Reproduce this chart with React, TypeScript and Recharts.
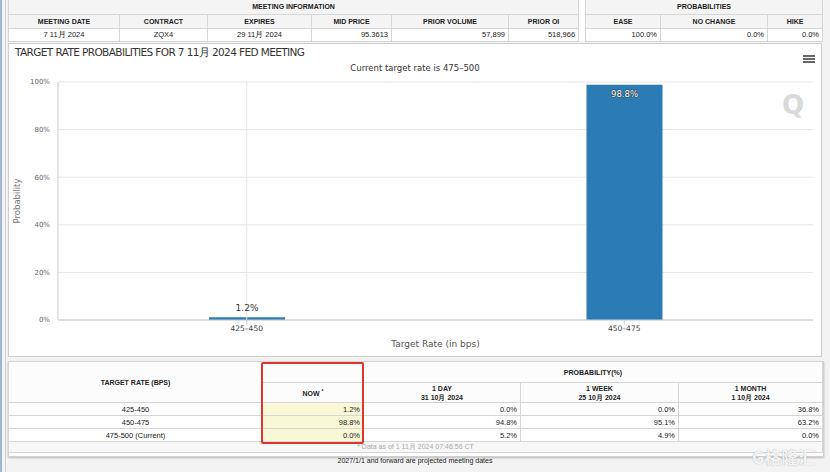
import React from 'react';
import {
  BarChart,
  Bar,
  XAxis,
  YAxis,
  CartesianGrid,
  ReferenceLine,
  LabelList,
  Label,
} from 'recharts';

// chart values
const rateBuckets = ['425–450', '450–475'];
const probabilities = [1.2, 98.8];
const yTicks = [0, 20, 40, 60, 80, 100];

// meeting info table
const meetingHeaders = ['MEETING DATE', 'CONTRACT', 'EXPIRES', 'MID PRICE', 'PRIOR VOLUME', 'PRIOR OI'];
const meetingValues = ['7 11月 2024', 'ZQX4', '29 11月 2024', '95.3613', '57,899', '518,966'];
const probHeaders = ['EASE', 'NO CHANGE', 'HIKE'];
const probValues = ['100.0%', '0.0%', '0.0%'];

// probability table
const targetRates = ['425-450', '450-475', '475-500 (Current)'];
const nowProb = [1.2, 98.8, 0.0];
const oneDayProb = [0.0, 94.8, 5.2];
const oneWeekProb = [0.0, 95.1, 4.9];
const oneMonthProb = [36.8, 63.2, 0.0];

const chartData = rateBuckets.map((r, i) => ({ rate: r, prob: probabilities[i] }));

const chartFont = '"DejaVu Sans", Verdana, sans-serif';
const tableFont = '"Liberation Sans", Arial, sans-serif';

const BarValueLabel = (props: any) => {
  const { x, y, width, value } = props;
  const cx = x + width / 2;
  if (value > 50) {
    return (
      <text x={cx} y={y + 12} textAnchor="middle" fontSize={8.5}
        fill="#fff" stroke="#333" strokeWidth={0.8} paintOrder="stroke" fontFamily={chartFont}>
        {value}%
      </text>
    );
  }
  return (
    <text x={cx} y={y - 6} textAnchor="middle" fontSize={9} fill="#333" fontFamily={chartFont}>
      {value}%
    </text>
  );
};

const th: React.CSSProperties = {
  border: '1px solid #d6d6d6',
  background: '#f4f4f4',
  fontWeight: 'bold',
  fontSize: 7,
  color: '#222',
  textAlign: 'center',
  padding: 0,
};
const td: React.CSSProperties = {
  border: '1px solid #d6d6d6',
  fontSize: 7.5,
  color: '#222',
  padding: '0 3px',
  background: '#fff',
};

function TopTables() {
  const leftCols = [111, 88, 104, 80, 117, 70];
  const rightCols = [75, 107, 55];
  return (
    <>
      <table style={{ position: 'absolute', left: 8, top: 0, width: 570, borderCollapse: 'collapse', tableLayout: 'fixed', fontFamily: tableFont }}>
        <colgroup>{leftCols.map((w, i) => <col key={i} style={{ width: w }} />)}</colgroup>
        <tbody>
          <tr style={{ height: 14 }}>
            <td colSpan={6} style={{ ...th, borderTop: 'none' }}>MEETING INFORMATION</td>
          </tr>
          <tr style={{ height: 14 }}>
            {meetingHeaders.map((h) => <td key={h} style={th}>{h}</td>)}
          </tr>
          <tr style={{ height: 13 }}>
            {meetingValues.map((v, i) => (
              <td key={i} style={{ ...td, textAlign: i < 3 ? 'center' : 'right' }}>{v}</td>
            ))}
          </tr>
        </tbody>
      </table>
      <table style={{ position: 'absolute', left: 585, top: 0, width: 237, borderCollapse: 'collapse', tableLayout: 'fixed', fontFamily: tableFont }}>
        <colgroup>{rightCols.map((w, i) => <col key={i} style={{ width: w }} />)}</colgroup>
        <tbody>
          <tr style={{ height: 14 }}>
            <td colSpan={3} style={{ ...th, borderTop: 'none' }}>PROBABILITIES</td>
          </tr>
          <tr style={{ height: 14 }}>
            {probHeaders.map((h) => <td key={h} style={th}>{h}</td>)}
          </tr>
          <tr style={{ height: 13 }}>
            {probValues.map((v, i) => <td key={i} style={{ ...td, textAlign: 'right' }}>{v}</td>)}
          </tr>
        </tbody>
      </table>
    </>
  );
}

function BottomTable() {
  const cols = [254, 101, 157, 158, 144];
  const fmt = (v: number) => v.toFixed(1) + '%';
  return (
    <div style={{ position: 'absolute', left: 8, top: 361, width: 814, height: 94, background: '#fff', border: '1px solid #cfcfcf', boxShadow: '0 1px 2px rgba(0,0,0,0.25)' }}>
      <table style={{ width: 814, borderCollapse: 'collapse', tableLayout: 'fixed', fontFamily: tableFont, marginLeft: -1, marginTop: -1 }}>
        <colgroup>{cols.map((w, i) => <col key={i} style={{ width: w }} />)}</colgroup>
        <tbody>
          <tr style={{ height: 21 }}>
            <td rowSpan={2} style={{ ...th, background: '#fcfcfc' }}>TARGET RATE (BPS)</td>
            <td style={{ ...th, background: '#fcfcfc' }}></td>
            <td colSpan={3} style={{ ...th, background: '#fcfcfc', borderLeft: 'none' }}>PROBABILITY(%)</td>
          </tr>
          <tr style={{ height: 20 }}>
            <td style={{ ...th, background: '#fcfcfc' }}>NOW <sup style={{ fontSize: 5 }}>*</sup></td>
            <td style={{ ...th, background: '#fcfcfc', lineHeight: '9px' }}>1 DAY<br />31 10月 2024</td>
            <td style={{ ...th, background: '#fcfcfc', lineHeight: '9px' }}>1 WEEK<br />25 10月 2024</td>
            <td style={{ ...th, background: '#fcfcfc', lineHeight: '9px' }}>1 MONTH<br />1 10月 2024</td>
          </tr>
          {targetRates.map((r, i) => (
            <tr key={r} style={{ height: 13 }}>
              <td style={{ ...td, textAlign: 'center' }}>{r}</td>
              <td style={{ ...td, textAlign: 'right', background: '#f8f8d6' }}>{fmt(nowProb[i])}</td>
              <td style={{ ...td, textAlign: 'right' }}>{fmt(oneDayProb[i])}</td>
              <td style={{ ...td, textAlign: 'right' }}>{fmt(oneWeekProb[i])}</td>
              <td style={{ ...td, textAlign: 'right' }}>{fmt(oneMonthProb[i])}</td>
            </tr>
          ))}
          <tr style={{ height: 11 }}>
            <td colSpan={5} style={{ ...td, background: '#f7f7f7', textAlign: 'center', color: '#aaa', fontSize: 7 }}>
              * Data as of 1 11月 2024 07:46:56 CT
            </td>
          </tr>
        </tbody>
      </table>
    </div>
  );
}

export default function App() {
  return (
    <div style={{ position: 'fixed', left: 0, top: 0, width: 830, height: 472, background: '#f3f3f3', overflow: 'hidden' }}>
      {/* left browser edge */}
      <div style={{ position: 'absolute', left: 0, top: 0, width: 2, height: 472, background: '#9fb4cf' }} />
      <div style={{ position: 'absolute', left: 5, top: 0, width: 1, height: 472, background: '#d0d0d0' }} />
      <div style={{ position: 'absolute', left: 8, top: 0, width: 814, height: 41, background: '#fff' }} />
      <TopTables />

      {/* chart panel */}
      <div style={{ position: 'absolute', left: 8, top: 43, width: 812, height: 312, background: '#fff', border: '1px solid #cfcfcf' }}>
        <div style={{ position: 'absolute', left: 6, top: 2, fontFamily: chartFont, fontSize: 10.5, color: '#333', letterSpacing: -0.6, whiteSpace: 'nowrap' }}>
          TARGET RATE PROBABILITIES FOR 7 11月 2024 FED MEETING
        </div>
        <div style={{ position: 'absolute', left: 0, width: 812, top: 19, textAlign: 'center', fontFamily: chartFont, fontSize: 8.5, color: '#333' }}>
          Current target rate is 475–500
        </div>
        {/* menu icon */}
        <div style={{ position: 'absolute', left: 794, top: 11 }}>
          {[0, 3, 6].map((o) => (
            <div key={o} style={{ position: 'absolute', top: o, width: 12, height: 2, background: '#666' }} />
          ))}
        </div>
        <div style={{ position: 'absolute', left: 773, top: 46, fontFamily: chartFont, fontWeight: 'bold', fontSize: 26, color: '#d9d9d9' }}>Q</div>
        <div style={{ position: 'absolute', left: 0, top: 0 }}>
          <BarChart width={812} height={312} data={chartData} margin={{ top: 38, right: 8, left: 0, bottom: 0 }}>
            <CartesianGrid vertical={false} stroke="#e6e6e6" />
            <ReferenceLine x="425–450" stroke="#e6e6e6" />
            <XAxis
              dataKey="rate"
              height={36}
              stroke="#ccc"
              tick={{ fontSize: 7.5, fill: '#444', fontFamily: chartFont }}
              tickSize={4}
            >
              <Label value="Target Rate (in bps)" position="insideBottom" offset={9} fontSize={9} fill="#555" fontFamily={chartFont} />
            </XAxis>
            <YAxis
              width={49}
              domain={[0, 100]}
              ticks={yTicks}
              tickFormatter={(v) => v + '%'}
              stroke="#ccc"
              tickLine={false}
              tick={{ fontSize: 7, fill: '#666', fontFamily: chartFont }}
            >
              <Label value="Probability" angle={-90} position="insideLeft" offset={8} fontSize={8.5} fill="#777" fontFamily={chartFont} style={{ textAnchor: 'middle' }} />
            </YAxis>
            <Bar dataKey="prob" fill="#2b7cb5" barSize={76} isAnimationActive={false}>
              <LabelList dataKey="prob" content={<BarValueLabel />} />
            </Bar>
          </BarChart>
        </div>
      </div>

      <BottomTable />
      {/* red highlight box */}
      <div style={{ position: 'absolute', left: 261, top: 362, width: 99, height: 78, border: '2px solid #e0342f', borderRadius: 2 }} />
      <div style={{ position: 'absolute', left: 0, width: 830, top: 457, textAlign: 'center', fontFamily: tableFont, fontSize: 7, color: '#222' }}>
        2027/1/1 and forward are projected meeting dates
      </div>
      <div style={{ position: 'absolute', left: 752, top: 444, fontFamily: '"Noto Sans CJK SC", sans-serif', fontSize: 17, fontWeight: 'bold', color: 'rgba(255,255,255,0.9)', textShadow: '0 0 1px #999' }}>
        G格隆汇
      </div>
    </div>
  );
}
